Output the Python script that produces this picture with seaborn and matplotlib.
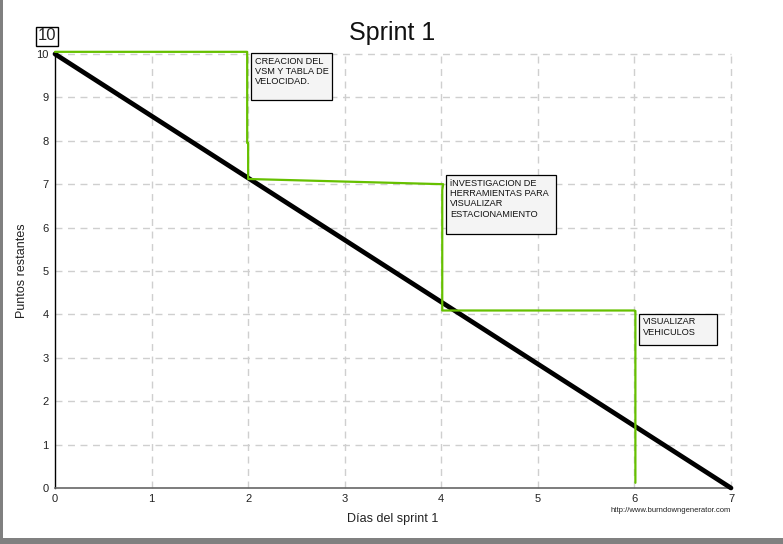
import matplotlib
matplotlib.use("Agg")
import matplotlib.pyplot as plt
import seaborn as sns
from matplotlib.patches import Rectangle

# datos del sprint
ideal_days = [0, 7]
ideal_points = [10, 0]

real_days = [0, 1.99, 1.99, 2.0, 2.0, 4.02, 4.01, 4.01, 6.0, 6.01, 6.01]
real_points = [10.05, 10.05, 7.95, 7.95, 7.12, 7.0, 6.87, 4.09, 4.09, 4.08, 0.12]

notes = ["CREACION DEL\nVSM Y TABLA DE\nVELOCIDAD.",
         "iNVESTIGACION DE\nHERRAMIENTAS PARA\nVISUALIZAR\nESTACIONAMIENTO",
         "VISUALIZAR\nVEHICULOS"]
note_boxes = [(2.03, 8.94, 0.84, 1.08),
              (4.05, 5.85, 1.14, 1.36),
              (6.05, 3.29, 0.81, 0.72)]

x_ticks = list(range(0, 8))
y_ticks = list(range(0, 11))

sns.set_theme(style="white")
plt.rcParams['font.family'] = ['Liberation Sans', 'DejaVu Sans']

fig = plt.figure(figsize=(7.83, 5.44), dpi=100)
ax = fig.add_axes([55 / 783, 1 - 488 / 544, (731 - 55) / 783, (488 - 54) / 544])

# grid punteada
for x in x_ticks[1:]:
    ax.axvline(x, color='#cfcfcf', lw=1, ls=(0, (5, 4)), zorder=0)
for y in y_ticks[1:]:
    ax.axhline(y, color='#cfcfcf', lw=1, ls=(0, (5, 4)), zorder=0)

sns.lineplot(x=ideal_days, y=ideal_points, ax=ax, color='black', lw=3.4,
             estimator=None, sort=False, zorder=3)
sns.lineplot(x=real_days, y=real_points, ax=ax, color='#66c000', lw=1.6,
             estimator=None, sort=False, zorder=4)
for line in ax.get_lines():
    line.set_clip_on(False)

for txt, (bx, by, bw, bh) in zip(notes, note_boxes):
    ax.add_patch(Rectangle((bx, by), bw, bh, facecolor='#f4f4f4',
                           edgecolor='black', lw=0.9, zorder=5, clip_on=False))
    ax.text(bx + 0.04, by + bh - 0.08, txt, fontsize=6.6, va='top', ha='left',
            linespacing=1.2, color='#111111', zorder=6)

ax.set_xlim(0, 7)
ax.set_ylim(0, 10)
ax.set_xticks(x_ticks)
ax.set_yticks(y_ticks)
ax.tick_params(axis='both', direction='inout', length=7, width=1,
               labelsize=8, pad=1, colors='#222222')
ax.tick_params(axis='x', color='#555555')
for side in ['top', 'right']:
    ax.spines[side].set_visible(False)
ax.spines['left'].set_color('black')
ax.spines['bottom'].set_color('#666666')
ax.spines['left'].set_linewidth(1)
ax.spines['bottom'].set_linewidth(1.2)

ax.set_xlabel("Días del sprint 1", fontsize=9, labelpad=6, color='#222222')
ax.set_ylabel("Puntos restantes", fontsize=9, labelpad=6, color='#222222')

fig.text(392 / 783, 1 - 33 / 544, "Sprint 1", fontsize=18, ha='center',
         va='center', color='#111111')
fig.text(47 / 783, 1 - 36 / 544, "10", fontsize=12, ha='center', va='center',
         bbox=dict(boxstyle='square,pad=0.12', fc='white', ec='black', lw=1))
fig.text(731 / 783, 1 - 511 / 544, "http://www.burndowngenerator.com",
         fontsize=5.5, ha='right', va='center', color='#222222')

# marco gris
fig.patches.append(Rectangle((0, 0), 3 / 783, 1, transform=fig.transFigure,
                             facecolor='#808080', edgecolor='none'))
fig.patches.append(Rectangle((0, 0), 1, 6 / 544, transform=fig.transFigure,
                             facecolor='#808080', edgecolor='none'))

fig.savefig("out.png", dpi=100)
